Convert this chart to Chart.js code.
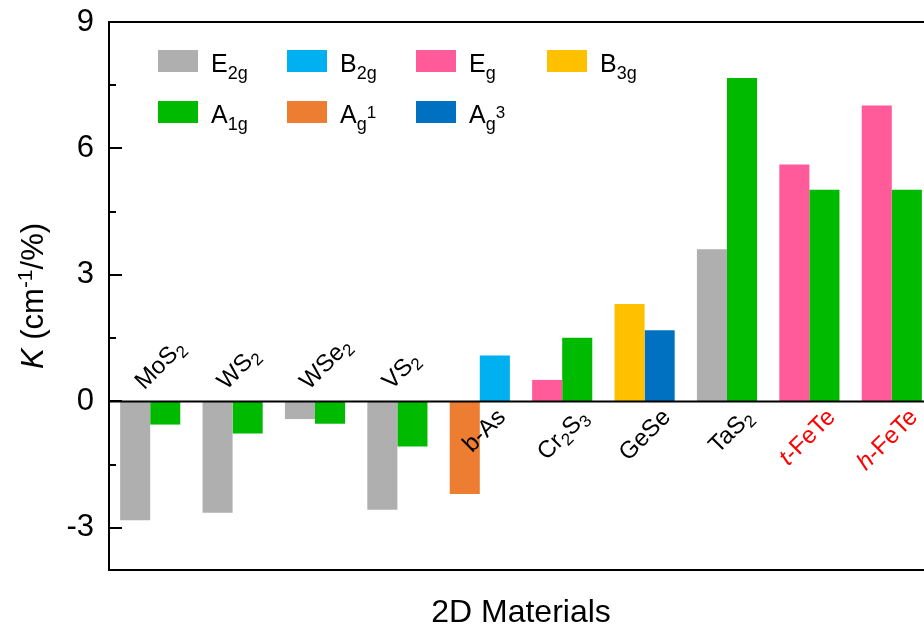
<!DOCTYPE html>
<html>
<head>
<meta charset="utf-8">
<script src="https://cdn.jsdelivr.net/npm/chart.js@4/dist/chart.umd.min.js"></script>
<style>
  html, body { margin: 0; padding: 0; overflow: hidden; background: #fff; }
  canvas { display: block; }
</style>
</head>
<body>
<canvas id="chart" width="940" height="626"></canvas>
<script>
// Materials along the x axis
const categories = ['MoS2', 'WS2', 'WSe2', 'VS2', 'b-As', 'Cr2S3', 'GeSe', 'TaS2', 't-FeTe', 'h-FeTe'];

// Strain coefficient K (cm^-1/%) per Raman mode; null = mode not reported
const e2gValues = [-2.82, -2.64, -0.42, -2.57, null, null, null, 3.61, null, null];
const egValues  = [null, null, null, null, null, 0.51, null, null, 5.62, 7.02];
const b3gValues = [null, null, null, null, null, null, 2.31, null, null, null];
const ag1Values = [null, null, null, null, -2.20, null, null, null, null, null];
const a1gValues = [-0.55, -0.76, -0.53, -1.07, null, 1.51, null, 7.67, 5.02, 5.02];
const b2gValues = [null, null, null, null, 1.09, null, null, null, null, null];
const ag3Values = [null, null, null, null, null, null, 1.69, null, null, null];

// Axis ticks
const yMajorTicks = [-3, 0, 3, 6, 9];
const yMinorTicks = [-1.5, 1.5, 4.5, 7.5];

// Mode names: "_" starts a subscript, "^" a superscript
const series = [
  { name: 'E_2g',  values: e2gValues, color: '#AFAFAF' },
  { name: 'E_g',   values: egValues,  color: '#FF5B9A' },
  { name: 'B_3g',  values: b3gValues, color: '#FFC000' },
  { name: 'A_g^1', values: ag1Values, color: '#ED7D31' },
  { name: 'A_1g',  values: a1gValues, color: '#00BA00' },
  { name: 'B_2g',  values: b2gValues, color: '#00B0F0' },
  { name: 'A_g^3', values: ag3Values, color: '#0070C0' }
];

// Legend reading order (4 columns)
const legendOrder = ['E_2g', 'B_2g', 'E_g', 'B_3g', 'A_1g', 'A_g^1', 'A_g^3'];

const FAMILY = '"Liberation Sans", Arial, Helvetica, sans-serif';

function fontOf(p) {
  return (p.italic ? 'italic ' : '') + p.size + 'px ' + FAMILY;
}

function drawParts(ctx, parts, x, y, align) {
  let total = 0;
  parts.forEach(p => { ctx.font = fontOf(p); p.w = ctx.measureText(p.text).width; total += p.w; });
  let cx = align === 'right' ? x - total : align === 'center' ? x - total / 2 : x;
  ctx.textAlign = 'left';
  ctx.textBaseline = 'alphabetic';
  parts.forEach(p => {
    ctx.font = fontOf(p);
    ctx.fillStyle = p.color || '#000';
    ctx.fillText(p.text, cx, y + (p.dy || 0));
    cx += p.w;
  });
}

// "A_g^1" -> main / subscript / superscript pieces
function modeParts(name) {
  const m = name.match(/^([^_^]+)(?:_([^^]+))?(?:\^(.+))?$/);
  const parts = [{ text: m[1], size: 25 }];
  if (m[2]) parts.push({ text: m[2], size: 18, dy: 7 });
  if (m[3]) parts.push({ text: m[3], size: 17, dy: -5 });
  return parts;
}

// "Cr2S3" -> digits as subscripts; "t-"/"h-" phase prefix in italic red
function materialParts(name) {
  const parts = [];
  let color = '#000';
  let rest = name;
  const phase = name.match(/^([th])-(.*)$/);
  if (phase) {
    color = '#FF0000';
    parts.push({ text: phase[1], size: 24, italic: true, color });
    rest = '-' + phase[2];
  }
  rest.split(/(\d+)/).forEach(tok => {
    if (!tok) return;
    if (/^\d+$/.test(tok)) parts.push({ text: tok, size: 17, dy: 5, color });
    else parts.push({ text: tok, size: 24, color });
  });
  return parts;
}

const decor = {
  id: 'decor',
  afterDatasetsDraw(chart) {
    const { ctx, chartArea: area, scales: { x, y } } = chart;
    ctx.save();
    ctx.strokeStyle = '#000';
    ctx.lineWidth = 2;
    ctx.lineCap = 'butt';

    // zero line and top frame
    const yZero = y.getPixelForValue(0);
    const y0 = Math.round(yZero) + 0.5;
    ctx.beginPath();
    ctx.moveTo(area.left, y0); ctx.lineTo(area.right, y0);
    ctx.moveTo(area.left, area.top); ctx.lineTo(area.right, area.top);
    ctx.stroke();

    // inward tick marks on the y axis
    ctx.beginPath();
    yMajorTicks.forEach(v => {
      const py = Math.round(y.getPixelForValue(v));
      ctx.moveTo(area.left, py); ctx.lineTo(area.left + 13, py);
    });
    yMinorTicks.forEach(v => {
      const py = Math.round(y.getPixelForValue(v));
      ctx.moveTo(area.left, py); ctx.lineTo(area.left + 7, py);
    });
    ctx.stroke();

    // material names, rotated, on the side of zero opposite the bars
    categories.forEach((name, i) => {
      const vals = series.map(s => s.values[i]).filter(v => v !== null);
      const below = Math.max(...vals) > 0;
      const cx = x.getPixelForValue(i);
      ctx.save();
      if (below) {
        ctx.translate(cx + 27, yZero + 17);
        ctx.rotate(-Math.PI / 4);
        drawParts(ctx, materialParts(name), 0, 0, 'right');
      } else {
        ctx.translate(cx - 6, yZero - 11);
        ctx.rotate(-Math.PI / 4);
        drawParts(ctx, materialParts(name), 0, 0, 'left');
      }
      ctx.restore();
    });

    // legend: 4 columns x 2 rows
    const colX = [158, 287, 416, 547];
    const rowY = [50, 101];
    legendOrder.forEach((name, k) => {
      const s = series.find(d => d.name === name);
      const sx = colX[k % 4];
      const sy = rowY[Math.floor(k / 4)];
      ctx.fillStyle = s.color;
      ctx.fillRect(sx, sy, 40, 22);
      drawParts(ctx, modeParts(name), sx + 53, sy + 22, 'left');
    });

    // axis titles
    drawParts(ctx, [{ text: '2D Materials', size: 32 }], (area.left + area.right) / 2, 622, 'center');
    ctx.save();
    ctx.translate(43, (area.top + area.bottom) / 2);
    ctx.rotate(-Math.PI / 2);
    drawParts(ctx, [
      { text: 'K', size: 31, italic: true },
      { text: ' (cm', size: 31 },
      { text: '-1', size: 21, dy: -11 },
      { text: '/%)', size: 31 }
    ], 0, 0, 'center');
    ctx.restore();

    ctx.restore();
  }
};

new Chart(document.getElementById('chart'), {
  type: 'bar',
  data: {
    labels: categories,
    datasets: series.map(s => ({
      label: s.name,
      data: s.values,
      backgroundColor: s.color,
      borderWidth: 0
    }))
  },
  options: {
    responsive: false,
    animation: false,
    layout: { padding: { left: 0, right: 7, top: 22, bottom: 56 } },
    datasets: { bar: { skipNull: true, barPercentage: 1, categoryPercentage: 0.73 } },
    plugins: { legend: { display: false }, tooltip: { enabled: false } },
    scales: {
      x: {
        grid: { display: false, drawTicks: false },
        ticks: { display: false },
        border: { display: true, color: '#000', width: 2 },
        afterFit(scale) { scale.height = 0; scale.paddingLeft = 0; scale.paddingRight = 0; }
      },
      y: {
        min: -4,
        max: 9,
        afterBuildTicks(scale) { scale.ticks = yMajorTicks.map(v => ({ value: v })); },
        grid: { display: false, drawTicks: false },
        border: { display: true, color: '#000', width: 2 },
        ticks: { color: '#000', padding: 15, font: { family: FAMILY, size: 31 } },
        afterFit(scale) { scale.width = 109; scale.paddingTop = 0; scale.paddingBottom = 0; }
      }
    }
  },
  plugins: [decor]
});
</script>
</body>
</html>
